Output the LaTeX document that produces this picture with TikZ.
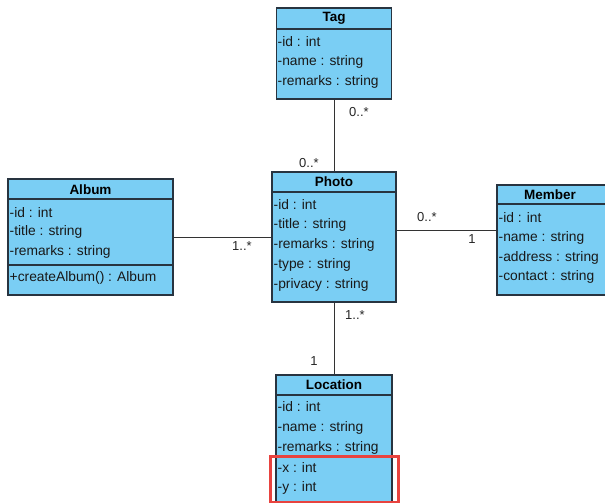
\documentclass[tikz,border=0pt]{standalone}
\usepackage{fontspec}
\setmainfont{Liberation Sans}
\usepackage{tikz}
\usetikzlibrary{positioning}

\definecolor{classfill}{RGB}{122,206,244}
\definecolor{classline}{RGB}{40,52,64}
\definecolor{markred}{RGB}{232,67,63}

\begin{document}
\begin{tikzpicture}[x=1pt, y=-1pt]
  \tikzstyle{classbox} = [rectangle, draw=classline, line width=1.2pt, fill=classfill, inner sep=0pt]
  \tikzstyle{title} = [inner sep=0pt, font=\fontsize{13.5}{13.5}\selectfont\bfseries]
  \tikzstyle{attr} = [anchor=west, inner sep=0pt, text=black!90, font=\fontsize{13.8}{13.8}\selectfont]
  \tikzstyle{mult} = [inner sep=0pt, text=black!85, font=\fontsize{13}{13}\selectfont]
  \tikzstyle{assoc} = [draw=black!80, line width=1pt]
  \useasboundingbox (0,0) rectangle (605,503);

  % Tag
  \node (tag) [classbox, minimum width=115pt, minimum height=91pt] at (334,53.5) {};
  \draw [classline, line width=1.2pt] (276.5,29) -- (391.5,29);
  \node [title] at (334,18.5) {Tag};
  \node [attr] at (277.5,42) {-id : int};
  \node [attr] at (277.5,62) {-name : string};
  \node [attr] at (277.5,82) {-remarks : string};

  % Album
  \node (album) [classbox, minimum width=165pt, minimum height=116pt] at (90.5,237) {};
  \draw [classline, line width=1.2pt] (8,199) -- (173,199);
  \draw [classline, line width=1.2pt] (8,265) -- (173,265);
  \node [title] at (90.5,189.5) {Album};
  \node [attr] at (9.5,213) {-id : int};
  \node [attr] at (9.5,232) {-title : string};
  \node [attr] at (9.5,252) {-remarks : string};
  \node [attr] at (9.5,278) {+createAlbum() : Album};

  % Photo
  \node (photo) [classbox, minimum width=124pt, minimum height=130pt] at (334,237) {};
  \draw [classline, line width=1.2pt] (272,192) -- (396,192);
  \node [title] at (334,182) {Photo};
  \node [attr] at (273.5,205) {-id : int};
  \node [attr] at (273.5,225) {-title : string};
  \node [attr] at (273.5,245) {-remarks : string};
  \node [attr] at (273.5,265) {-type : string};
  \node [attr] at (273.5,285) {-privacy : string};

  % Member
  \node (member) [classbox, minimum width=115pt, minimum height=110pt] at (554.5,240) {};
  \draw [classline, line width=1.2pt] (497,204) -- (612,204);
  \node [title] at (550,195) {Member};
  \node [attr] at (498.5,218) {-id : int};
  \node [attr] at (498.5,238) {-name : string};
  \node [attr] at (498.5,258) {-address : string};
  \node [attr] at (498.5,277) {-contact : string};

  % Location
  \node (location) [classbox, minimum width=116pt, minimum height=145pt] at (334,447.5) {};
  \draw [classline, line width=1.2pt] (276,395) -- (392,395);
  \node [title] at (334,385) {Location};
  \node [attr] at (277.5,407) {-id : int};
  \node [attr] at (277.5,428) {-name : string};
  \node [attr] at (277.5,448) {-remarks : string};
  \node [attr] at (277.5,468) {-x : int};
  \node [attr] at (277.5,488) {-y : int};
  \draw [markred, line width=3pt] (270,456) rectangle (398,502);

  % associations
  \draw [assoc] (tag) -- (photo);
  \draw [assoc] (album) -- (photo);
  \draw [assoc] ([yshift=10pt]member.west) -- ([yshift=10pt]member.west -| photo.east);
  \draw [assoc] (photo) -- (location);

  % multiplicities
  \node (mtag) [mult] at (359,112) {0..*};
  \node (mphototag) [mult] at (309,163) {0..*};
  \node (malbum) [mult] at (242,246) {1..*};
  \node (mphotomember) [mult] at (427,217) {0..*};
  \node (mmember) [mult] at (472,239) {1};
  \node (mphotoloc) [mult] at (355,315) {1..*};
  \node (mloc) [mult] at (314,361) {1};
\end{tikzpicture}
\end{document}
